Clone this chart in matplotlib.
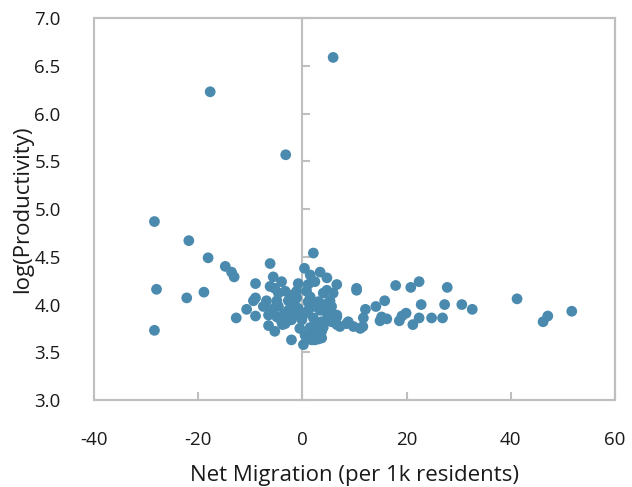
import matplotlib
matplotlib.use("Agg")
import matplotlib.pyplot as plt
from matplotlib.patches import Rectangle

plt.rcParams['font.family'] = ['Open Sans', 'DejaVu Sans']

# Net migration (per 1k residents)
net_migration = [
    -28.4, -21.8, -17.7, -3.2, 5.9, -18.1, -14.8, -13.6, -13.1, -28.0,
    -22.2, -18.9, -28.4, -12.7, -10.7, -9.4, -9.0, -9.0, -9.0, -6.2,
    -6.2, -5.6, -4.0, -5.3, -4.6, -3.3, -1.1, 0.8, -0.8, 0.4,
    2.1, 1.5, 3.4, 4.7, 2.4, 1.1, 6.6, 4.7, 5.9,
    -6.9, -4.9, -2.7, -1.1, 1.1, 3.05, 5.3, -6.5, -4.6, -2.7,
    -0.8, 1.1, 3.4, 5.3, 6.6, -6.5, -5.3, -4.0, -2.1, -0.1,
    2.1, 3.7, 5.6, 0.5, 2.1, 3.7, -2.1, 0.2, 2.4, 7.2,
    -3.3, -4.9, -4.9, -2.3, 2.4, 4.0, 1.5, 0.8, 4.0, 4.7,
    -1.1, 3.1, 4.0, 5.3, -3.8, 1.8, 5.6, 5.3, 3.7,
    -1.5, 0.3, 1.5, -3.5, 2.8, -0.5, 4.2, -5.8, -7.5, -2.0,
    10.4, 10.4, 17.9, 20.8, 22.4, 27.8, 41.2, 51.7, 47.1, 46.2,
    32.6, 30.6, 27.3, 26.9, 24.8, 22.8, 22.4, 21.2, 19.9, 19.1,
    18.6, 15.8, 14.1, 15.2, 16.2, 14.9, 12.1, 11.7, 11.6, 9.8,
    8.5, 6.6, 11.1, 8.8, 6.6,
]

# log(Productivity)
log_productivity = [
    4.87, 4.67, 6.23, 5.57, 6.59, 4.49, 4.40, 4.34, 4.29, 4.16,
    4.07, 4.13, 3.73, 3.86, 3.95, 4.04, 4.07, 3.88, 4.22, 4.43,
    4.19, 4.29, 4.24, 4.17, 4.12, 4.14, 4.14, 4.14, 4.22, 4.38,
    4.54, 4.31, 4.34, 4.28, 4.24, 4.21, 4.21, 4.15, 4.12,
    4.04, 4.04, 4.04, 4.07, 4.03, 4.03, 4.04, 3.89, 3.98, 3.94,
    3.96, 3.94, 3.94, 3.96, 3.89, 3.78, 3.72, 3.82, 3.84, 3.84,
    3.86, 3.82, 3.82, 3.68, 3.68, 3.72, 3.63, 3.58, 3.63, 3.77,
    3.80, 3.87, 4.01, 3.96, 3.98, 4.12, 3.76, 3.66, 3.80, 3.91,
    3.89, 3.64, 3.76, 3.86, 3.79, 3.63, 3.98, 3.91, 3.65,
    4.00, 3.90, 4.08, 3.90, 3.78, 3.75, 4.00, 3.95, 3.98, 4.10,
    4.17, 4.15, 4.20, 4.18, 4.24, 4.18, 4.06, 3.93, 3.88, 3.82,
    3.95, 4.00, 4.00, 3.86, 3.86, 4.00, 3.86, 3.79, 3.91, 3.88,
    3.83, 4.04, 3.98, 3.87, 3.85, 3.83, 3.95, 3.86, 3.77, 3.77,
    3.80, 3.87, 3.75, 3.82, 3.79,
]

x_ticks = [-40, -20, 0, 20, 40, 60]
y_ticks = [3.0, 3.5, 4.0, 4.5, 5.0, 5.5, 6.0, 6.5, 7.0]

grey = '#bfbfbf'
dot = '#4a8aae'
txt = '#1a1a1a'

fig = plt.figure(figsize=(6.32, 4.87), dpi=100)
ax = fig.add_axes([94/632, 87/487, (615-94)/632, (400-18.3)/487])

ax.scatter(net_migration, log_productivity, s=60, color=dot, edgecolors='none', zorder=3)

ax.set_xlim(-40, 60)
ax.set_ylim(3.0, 7.0)

# box
for s in ['top', 'right', 'bottom']:
    ax.spines[s].set_color(grey)
    ax.spines[s].set_linewidth(1.5)
ax.spines['left'].set_position(('data', 0))
ax.spines['left'].set_color(grey)
ax.spines['left'].set_linewidth(1.5)
ax.add_patch(Rectangle((0, 0), 1, 1, transform=ax.transAxes, fill=False,
                       edgecolor=grey, linewidth=1.5, zorder=1, clip_on=False))

ax.set_xticks(x_ticks)
ax.set_xticklabels([str(t) for t in x_ticks])
ax.set_yticks(y_ticks)
ax.tick_params(axis='x', direction='in', length=6, width=1.5, color=grey,
               pad=22, labelsize=13.5, labelcolor=txt)
ax.tick_params(axis='y', direction='in', length=6, width=1.5, color=grey,
               labelleft=False)

sec = ax.secondary_yaxis(0)
sec.set_yticks(y_ticks)
sec.set_yticklabels([f'{t:.1f}' for t in y_ticks])
sec.spines['left'].set_visible(False)
sec.tick_params(axis='y', length=0, pad=24, labelsize=13.5, labelcolor=txt)
sec.set_ylabel('log(Productivity)', fontsize=16, color=txt, labelpad=1)

ax.set_xlabel('Net Migration (per 1k residents)', fontsize=16, color=txt, labelpad=12)

fig.savefig('out.png', dpi=100)
